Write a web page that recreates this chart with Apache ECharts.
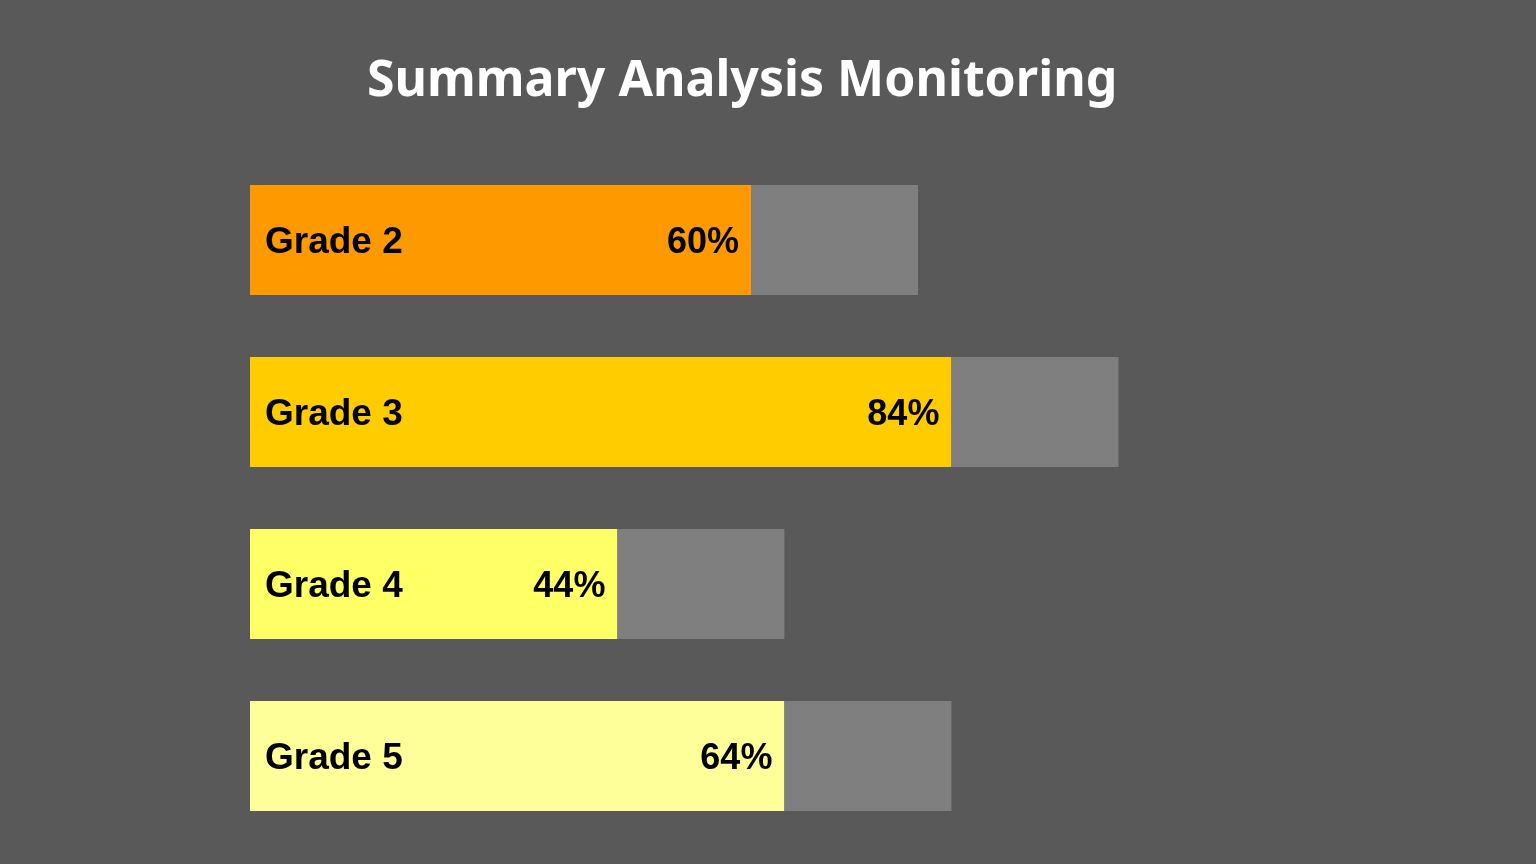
<!DOCTYPE html>
<html>
<head>
<meta charset="utf-8">
<script src="https://cdn.jsdelivr.net/npm/echarts@6/dist/echarts.min.js"></script>
<style>
html,body{margin:0;padding:0;background:#595959;}
#chart{width:1536px;height:864px;}
</style>
</head>
<body>
<div id="chart"></div>
<script>
var categories = ['Grade 2', 'Grade 3', 'Grade 4', 'Grade 5'];
var values = [60, 84, 44, 64];
var remaining = [20, 20, 20, 20];
var barColors = ['#ff9900', '#ffcc00', '#ffff66', '#ffff99'];

var chart = echarts.init(document.getElementById('chart'));
chart.setOption({
  backgroundColor: '#595959',
  animation: false,
  title: {
    text: 'Summary Analysis Monitoring',
    left: 362,
    top: 52,
    textStyle: {color: '#ffffff', fontSize: 50, fontWeight: 'bold', fontFamily: 'Noto Sans'}
  },
  grid: {left: 250, right: 284, top: 154, bottom: 22},
  xAxis: {type: 'value', min: 0, max: 120, show: false},
  yAxis: {
    type: 'category', data: categories, inverse: true,
    axisLine: {show: false}, axisTick: {show: false}, axisLabel: {show: false}
  },
  series: [
    {
      name: 'Score', type: 'bar', stack: 'total', barWidth: 110,
      data: values.map(function (v, i) { return {value: v, itemStyle: {color: barColors[i]}}; }),
      label: {
        show: true, position: 'insideLeft', distance: 15, offset: [0, 3],
        formatter: '{b}', color: '#000', fontSize: 37, fontWeight: 'bold',
        fontFamily: 'Liberation Sans'
      }
    },
    {
      name: 'Remaining', type: 'bar', stack: 'total', barWidth: 110,
      itemStyle: {color: '#7f7f7f'},
      data: remaining,
      label: {
        show: true, position: 'left', distance: 12, offset: [0, 3],
        formatter: function (p) { return values[p.dataIndex] + '%'; },
        color: '#000', fontSize: 36, fontWeight: 'bold', fontFamily: 'Liberation Sans'
      }
    }
  ]
});
</script>
</body>
</html>
